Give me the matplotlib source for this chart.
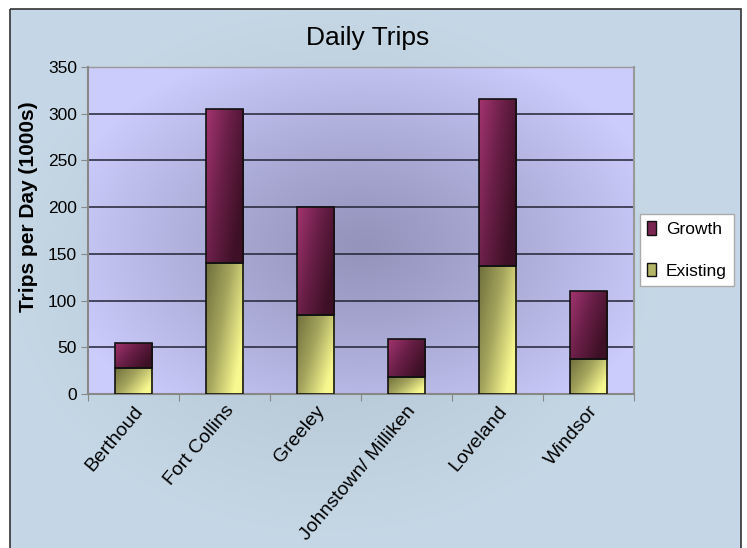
import numpy as np
import matplotlib
matplotlib.use("Agg")
import matplotlib.pyplot as plt
from matplotlib.patches import Rectangle
from matplotlib.colors import LinearSegmentedColormap

categories = ["Berthoud", "Fort Collins", "Greeley", "Johnstown/ Milliken", "Loveland", "Windsor"]
existing = [28, 140, 85, 18, 137, 37]
growth = [27, 165, 115, 41, 179, 73]
yticks = [0, 50, 100, 150, 200, 250, 300, 350]

plt.rcParams['font.family'] = ['Liberation Sans', 'DejaVu Sans']

W, H = 747, 548
fig = plt.figure(figsize=(W / 100, H / 100), dpi=100)
fig.patch.set_facecolor('white')

# background frame with gradient
bg = fig.add_axes([0, 0, 1, 1])
bg.set_xlim(0, W)
bg.set_ylim(H, 0)
bg.axis('off')
yy, xx = np.mgrid[0:H:2, 0:W:2]
d = np.sqrt(((xx - 330) / 330.0) ** 2 + ((yy - 270) / 270.0) ** 2)
d = np.clip(d, 0, 1)
c_out = np.array([0.776, 0.847, 0.902])
c_in = np.array([0.69, 0.75, 0.81])
img = c_in[None, None, :] * (1 - d[..., None]) + c_out[None, None, :] * d[..., None]
frame = Rectangle((10, 9), 731, 545, facecolor='none', edgecolor='#333333', lw=1.2, zorder=3)
bg.add_patch(frame)
im = bg.imshow(img, extent=(0, W, H, 0), aspect='auto', zorder=1)
clip = Rectangle((10, 9), 731, 545, transform=bg.transData, facecolor='none', edgecolor='none')
bg.add_patch(clip)
im.set_clip_path(clip)

# main axes
L, R, T, B = 88, 634, 67, 394
ax = fig.add_axes([L / W, (H - B) / H, (R - L) / W, (B - T) / H])
ax.set_facecolor('none')

# plot area radial gradient
py, px = np.mgrid[0:200, 0:300]
pd_ = np.sqrt(((px - 150) / 170.0) ** 2 + ((py - 90) / 130.0) ** 2)
pd_ = np.clip(pd_, 0, 1) ** 1.2
p_in = np.array([0.58, 0.58, 0.74])
p_out = np.array([0.80, 0.80, 0.99])
pimg = p_in[None, None, :] * (1 - pd_[..., None]) + p_out[None, None, :] * pd_[..., None]
ax.imshow(pimg, extent=(-0.5, 5.5, 350, 0), aspect='auto', zorder=0)

x = np.arange(len(categories))
bw = 0.41

ex_cmap = LinearSegmentedColormap.from_list('ex', ['#6f6f3c', '#a5a55e', '#f8f890'])
gr_cmap = LinearSegmentedColormap.from_list('gr', ['#a3346f', '#6a1f48', '#3e1026'])
gy, gx = np.mgrid[0:1:60j, 0:1:60j]
grad = np.clip(0.75 * gx + 0.45 * gy, 0, 1)

def grad_bar(x0, y0, w, h, cmap):
    rect = Rectangle((x0, y0), w, h, facecolor='none', edgecolor='#111111', lw=1.2, zorder=4)
    ax.add_patch(rect)
    g = ax.imshow(grad, cmap=cmap, extent=(x0, x0 + w, y0, y0 + h), origin='upper',
                  aspect='auto', zorder=3, vmin=0, vmax=1)
    g.set_clip_path(rect)

for i in range(len(categories)):
    grad_bar(x[i] - bw / 2, 0, bw, existing[i], ex_cmap)
    grad_bar(x[i] - bw / 2, existing[i], bw, growth[i], gr_cmap)

ax.set_xlim(-0.5, 5.5)
ax.set_ylim(0, 350)
ax.set_yticks(yticks)
ax.set_yticklabels([str(v) for v in yticks], fontsize=12.5)
for v in yticks[1:]:
    ax.axhline(v, color='#222233', lw=1.1, zorder=1)

ax.set_xticks(np.arange(-0.5, 6, 1), minor=False)
ax.set_xticklabels([])
ax.set_xticks(x, minor=True)
ax.set_xticklabels(categories, minor=True, rotation=50, ha='right', va='top',
                   rotation_mode='anchor', fontsize=14)
ax.tick_params(axis='x', which='minor', length=0, pad=6)
ax.tick_params(axis='x', which='major', length=5, color='#888888', direction='out')
ax.tick_params(axis='y', length=5, color='#888888', direction='out', pad=3)

for s in ['top', 'right']:
    ax.spines[s].set_visible(False)
ax.spines['left'].set_color('#888888')
ax.spines['bottom'].set_color('#888888')
ax.spines['left'].set_linewidth(1.5)
ax.spines['bottom'].set_linewidth(1.5)
ax.plot([5.5, 5.5], [0, 350], color='#999999', lw=1.5, zorder=2, clip_on=False)
ax.plot([-0.5, 5.5], [350, 350], color='#999999', lw=1.0, zorder=2, clip_on=False)

fig.text(29 / W, 1 - 207 / H, "Trips per Day (1000s)", rotation=90, ha='center', va='center',
         fontsize=15, fontweight='bold')

fig.text(368 / W, 1 - 38 / H, "Daily Trips", ha='center', va='center', fontsize=19)

handles = [Rectangle((0, 0), 1, 1, facecolor='#7a2552', edgecolor='#111111'),
           Rectangle((0, 0), 1, 1, facecolor='#b5b568', edgecolor='#111111')]
leg = fig.legend(handles, ['Growth', 'Existing'], loc='center left',
                 bbox_to_anchor=(640 / W, 1 - 250 / H), fontsize=12.5, frameon=True,
                 fancybox=False, handlelength=0.55, handleheight=0.8, handletextpad=0.55,
                 labelspacing=1.5, borderpad=0.4, borderaxespad=0)
leg.get_frame().set_edgecolor('#aaaaaa')
leg.get_frame().set_facecolor('white')
leg.get_frame().set_alpha(1)

fig.savefig('out.png', dpi=100)
